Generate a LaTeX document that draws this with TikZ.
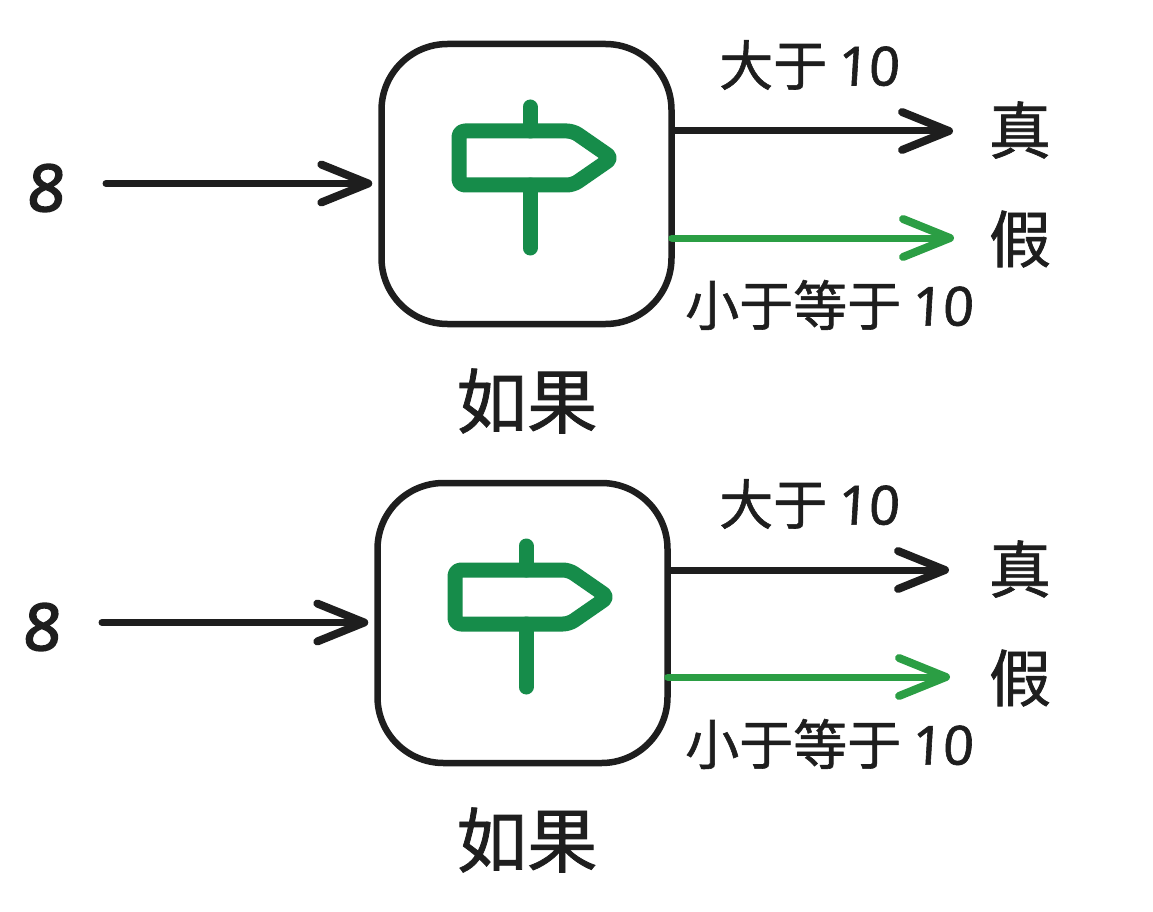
\documentclass[tikz,border=0pt]{standalone}
\usepackage{fontspec}
\usetikzlibrary{arrows.meta}
\newfontfamily\cjk[FakeBold=1.1]{Noto Sans CJK SC}
\newfontface\hand[FakeSlant=0.06,FakeBold=1.1]{Noto Sans}
\newfontface\handeight[FakeSlant=0.08,FakeBold=2.6]{Noto Sans}
\definecolor{ink}{HTML}{1E1E1E}
\definecolor{signgreen}{HTML}{168C4A}
\definecolor{arrowgreen}{HTML}{2B9E44}
\tikzset{
  x=1pt,y=-1pt,
  iconbox/.style={draw=ink,line width=6.5pt,rounded corners=66pt,minimum width=290pt,minimum height=280pt,inner sep=0pt,fill=white},
  signline/.style={draw=signgreen,line width=15pt,line cap=round,line join=round},
  flow/.style={draw=ink,line width=7pt,line cap=round,-{Straight Barb[length=47pt,width=38pt,line width=8pt,round]}},
  flowgreen/.style={flow,draw=arrowgreen,shorten <=-3pt},
  lab/.style={inner sep=0pt,text=ink,font=\cjk\fontsize{54}{54}\selectfont},
  res/.style={inner sep=0pt,text=ink,font=\cjk\fontsize{62}{62}\selectfont},
  captext/.style={inner sep=0pt,text=ink,font=\cjk\fontsize{70.5}{70.5}\selectfont},
  num/.style={inner sep=0pt,text=ink,font=\handeight\fontsize{65}{65}\selectfont},
}
\newcommand{\decisionunit}[3]{%
  % #1 name suffix, #2 dx of the left part, #3 dy
  \begin{scope}[shift={(#2,#3)}]
    \node[iconbox] (box#1) at (526.5,184) {};
    \path[signline] (530,107) -- (530,131);
    \path[signline] (530,185) -- (530,248);
    \path[signline,rounded corners=6pt] (459,131) -- (573,131) -- (612,158) -- (573,185) -- (459,185) -- cycle;
    \node[num] (eight#1) at (45,188) {8};
    \coordinate (in#1) at (106,183.5);
    \coordinate (t#1) at (953,131);
    \coordinate (f#1) at (954,238);
  \end{scope}
  \node[res] (zhen#1) at (1020,130+#3) {真};
  \node[res] (jia#1) at (1020,239+#3) {假};
  \node[lab,anchor=west] (gt#1) at (719,65+#3) {大于\kern10pt{\hand 10}};
  \node[lab,anchor=west] (le#1) at (685,305+#3) {小于等于\kern10pt{\hand 10}};
  \node[captext] (if#1) at (527,401+#3) {如果};
  \draw[flow,shorten >=6pt] (in#1) -- (box#1.west|-in#1);
  \draw[flow] (box#1.east|-t#1) -- (t#1);
  \draw[flowgreen] (box#1.east|-f#1) -- (f#1);
}
\begin{document}
\begin{tikzpicture}
  \useasboundingbox (0,0) rectangle (1153,912);
  \decisionunit{a}{0}{0}
  \decisionunit{b}{-4}{439}
\end{tikzpicture}
\end{document}
